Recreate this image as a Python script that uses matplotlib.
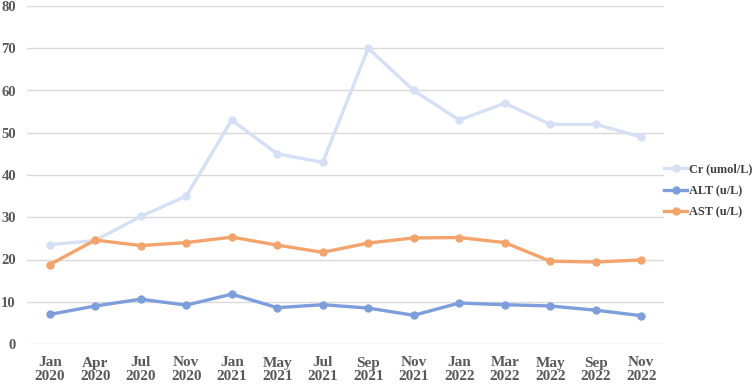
import numpy as np
import matplotlib.pyplot as plt

plt.rcParams.update({
    "font.family": "Liberation Serif",
    "font.weight": "bold",
    "font.size": 11,
})

# ---------------------------------------------------------------------------
# Data
# ---------------------------------------------------------------------------

dates = ["Jan\n2020", "Apr\n2020", "Jul\n2020", "Nov\n2020", "Jan\n2021", "May\n2021",
         "Jul\n2021", "Sep\n2021", "Nov\n2021", "Jan\n2022", "Mar\n2022", "May\n2022",
         "Sep\n2022", "Nov\n2022"]
cr  = [23.5, 24.5, 30.2, 35.0, 53.0, 45.0, 43.0, 70.0, 60.0, 53.0, 57.0, 52.0, 52.0, 49.0]
alt = [7.0, 9.0, 10.6, 9.2, 11.8, 8.6, 9.3, 8.5, 6.8, 9.7, 9.3, 9.0, 8.0, 6.7]
ast = [18.8, 24.6, 23.3, 24.0, 25.3, 23.4, 21.7, 23.9, 25.1, 25.2, 24.0, 19.6, 19.4, 19.9]

series = [
    ("Cr (umol/L)", cr,  "#D5E0F4"),
    ("ALT (u/L)",   alt, "#7E9EDB"),
    ("AST (u/L)",   ast, "#F3A46C"),
]

# ---------------------------------------------------------------------------
# Plot
# ---------------------------------------------------------------------------

fig = plt.figure(figsize=(7.54, 3.84), dpi=100)
ax = fig.add_axes([27 / 754, 1 - 344 / 384, 637 / 754, 338 / 384])

x = np.arange(len(dates))
for label, vals, color in series:
    ax.plot(x, vals, '-o', color=color, linewidth=2.4, markersize=5, label=label)

ax.set_xlim(-0.5, len(dates) - 0.5)
ax.set_ylim(0, 80)
ax.set_yticks(np.arange(0, 81, 10))
ax.set_xticks(x)
ax.set_xticklabels(dates, color="#595959", linespacing=1.05)
ax.tick_params(axis='y', length=0, pad=8, labelsize=10.5)
ax.tick_params(axis='x', length=0, pad=9)
for lbl in ax.get_yticklabels():
    lbl.set_color("#595959")

ax.grid(True, axis='y', color="#D9D9D9", linewidth=1)
ax.set_axisbelow(True)
for s in ax.spines.values():
    s.set_visible(False)

leg = ax.legend(loc='center left', bbox_to_anchor=(1.0, 0.453), frameon=False,
                fontsize=8.8, handlelength=1.9, handletextpad=0.15,
                labelspacing=0.75, borderaxespad=0, borderpad=0)
for t in leg.get_texts():
    t.set_color("#404040")

fig.savefig("out.png", dpi=100)
